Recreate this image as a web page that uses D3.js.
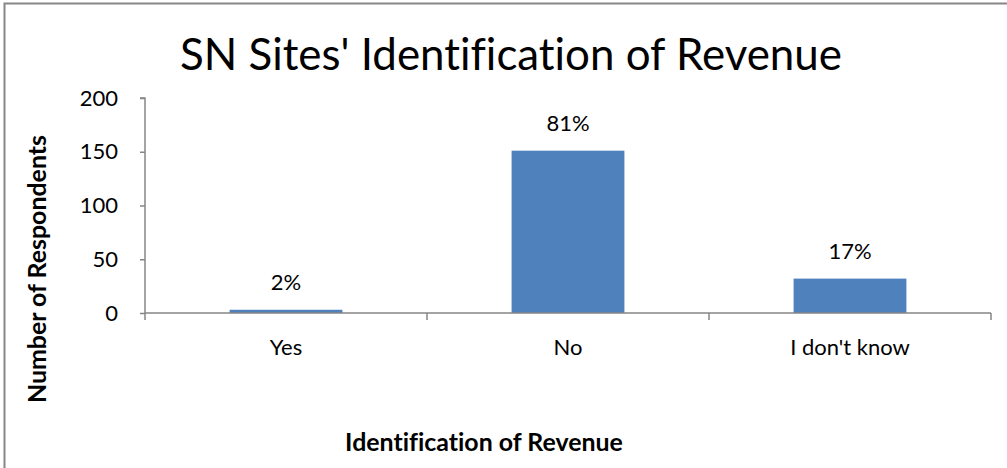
<!DOCTYPE html>
<html>
<head>
<meta charset="utf-8">
<script src="https://cdn.jsdelivr.net/npm/d3@7"></script>
<style>
  html, body { margin: 0; padding: 0; background: #fff; }
  svg { display: block; font-family: Lato, "Open Sans", sans-serif; font-variant-ligatures: none; }
</style>
</head>
<body>
<svg id="chart" width="1007" height="468"></svg>
<script>
// Survey responses: does the SN site identify its revenue source?
const categories = ["Yes", "No", "I don't know"];
const respondents = [3, 151, 32];
const yTicks = [0, 50, 100, 150, 200];

const titleText = "SN Sites' Identification of Revenue";
const xTitle = "Identification of Revenue";
const yTitle = "Number of Respondents";

const W = 1007, H = 468;
const plot = { left: 145, right: 991, top: 98, bottom: 313 };
const barColor = "#4F81BD";
const axisColor = "#868686";
const fontFamily = "Lato, 'Open Sans', sans-serif";
const bodySize = 22;

const svg = d3.select("#chart");

// scale a text's font size so that it spans the given width
function fitWidth(sel, target) {
  const w = sel.node().getComputedTextLength();
  const fs = +sel.attr("font-size");
  sel.attr("font-size", fs * target / w);
  return fs * target / w;
}

// outer frame of the chart area
svg.append("rect")
  .attr("x", 4.5).attr("y", 3.5)
  .attr("width", W + 10).attr("height", H + 10)
  .attr("fill", "#fff")
  .attr("stroke", axisColor).attr("stroke-width", 2);

const x = d3.scaleBand()
  .domain(categories)
  .range([plot.left, plot.right])
  .paddingInner(0.6)
  .paddingOuter(0.3);

const y = d3.scaleLinear()
  .domain([0, 200])
  .range([plot.bottom, plot.top]);

const total = d3.sum(respondents);
const data = categories.map((c, i) => ({
  cat: c,
  value: respondents[i],
  pct: Math.round(respondents[i] / total * 100) + "%"
}));

// title
const title = svg.append("text")
  .attr("x", 511).attr("y", 70)
  .attr("text-anchor", "middle")
  .attr("font-size", 44)
  .attr("fill", "#000")
  .text(titleText);
fitWidth(title, 662);

// bars
svg.append("g").selectAll("rect")
  .data(data)
  .join("rect")
  .attr("x", d => x(d.cat))
  .attr("width", x.bandwidth())
  .attr("y", d => y(d.value))
  .attr("height", d => y(0) - y(d.value))
  .attr("fill", barColor);

// value labels
svg.append("g").selectAll("text")
  .data(data)
  .join("text")
  .attr("x", d => x(d.cat) + x.bandwidth() / 2)
  .attr("y", d => y(d.value) - 20)
  .attr("text-anchor", "middle")
  .attr("font-size", bodySize)
  .attr("fill", "#000")
  .text(d => d.pct);

// y axis
const yAxis = svg.append("g")
  .attr("transform", `translate(${plot.left},0)`)
  .call(d3.axisLeft(y).tickValues(yTicks).tickSize(5))
  .attr("font-family", fontFamily)
  .attr("font-size", bodySize);
yAxis.select(".domain").attr("stroke", axisColor).attr("stroke-width", 1.5)
  .attr("d", `M-5,${plot.top}H0V${plot.bottom}`);
yAxis.selectAll(".tick line").attr("stroke", axisColor).attr("stroke-width", 1.5);
yAxis.selectAll(".tick text")
  .attr("fill", "#000")
  .attr("x", -27);

// x axis: labels centred under bars, ticks at category boundaries
const xAxis = svg.append("g")
  .attr("transform", `translate(0,${plot.bottom})`)
  .call(d3.axisBottom(x).tickSize(0))
  .attr("font-family", fontFamily)
  .attr("font-size", bodySize);
xAxis.select(".domain").attr("stroke", axisColor).attr("stroke-width", 1.5)
  .attr("d", `M${plot.left},0H${plot.right}`);
xAxis.selectAll(".tick text")
  .attr("fill", "#000")
  .attr("y", 42).attr("dy", 0);

const bounds = d3.range(categories.length + 1).map(i => plot.left + i * x.step());
xAxis.selectAll("line.bound")
  .data(bounds)
  .join("line")
  .attr("class", "bound")
  .attr("x1", d => d).attr("x2", d => d)
  .attr("y1", 0).attr("y2", 7)
  .attr("stroke", axisColor).attr("stroke-width", 1.5);

// axis titles
const xt = svg.append("text")
  .attr("x", 484).attr("y", 451)
  .attr("text-anchor", "middle")
  .attr("font-size", 25).attr("font-weight", "bold")
  .attr("fill", "#000")
  .text(xTitle);
const axisTitleSize = fitWidth(xt, 278);

svg.append("text")
  .attr("transform", "translate(46,135) rotate(-90)")
  .attr("text-anchor", "end")
  .attr("font-size", axisTitleSize).attr("font-weight", "bold")
  .attr("fill", "#000")
  .text(yTitle);
</script>
</body>
</html>
